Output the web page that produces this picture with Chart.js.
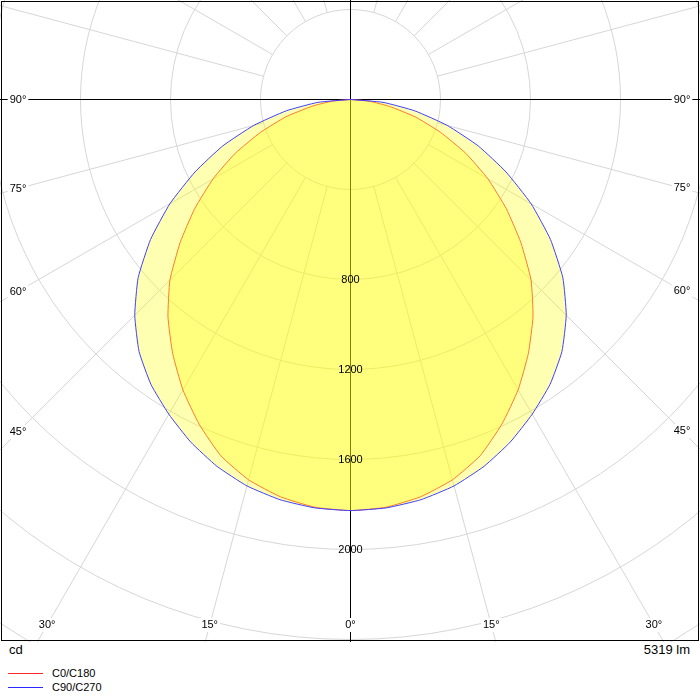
<!DOCTYPE html>
<html lang="en">
<head>
    <meta charset="UTF-8">
    <title>Light distribution</title>
    <script src="https://cdn.jsdelivr.net/npm/chart.js"></script>
    <style>
        body { margin: 0; background: #fff; font-family: "Liberation Sans", Arial, sans-serif; }
        #wrap { position: relative; width: 700px; height: 700px; overflow: hidden; }
        #polar { position: absolute; left: 0; top: 0; }
        .foot { position: absolute; color: #000; white-space: nowrap; }
        .key { position: absolute; left: 8px; width: 35px; height: 0; }
    </style>
</head>
<body>
<div id="wrap">
    <canvas id="polar" width="700" height="642"></canvas>
    <div class="foot" style="left:9px; top:642px; font-size:13px; line-height:16px;">cd</div>
    <div class="foot" style="right:10px; top:642px; font-size:13px; line-height:16px;">5319 lm</div>
    <div class="key" style="top:673px; border-top:1px solid rgb(255,40,40);"></div>
    <div class="foot" style="left:52px; top:666px; font-size:11px; line-height:14px;">C0/C180</div>
    <div class="key" style="top:687px; border-top:1px solid rgb(40,40,255);"></div>
    <div class="foot" style="left:52px; top:680px; font-size:11px; line-height:14px;">C90/C270</div>
</div>

<script>
    // gamma angles (deg from nadir) and luminous intensity in cd
    const gammaAngles = [0, 5, 10, 15, 20, 25, 30, 35, 40, 45, 50, 55, 60, 65, 70, 75, 80, 85, 90];
    const c0c180 = [1827, 1819, 1793, 1750, 1685, 1592, 1490, 1378, 1262, 1135, 988, 845, 705, 565, 425, 297, 175, 82, 0];
    const c90c270 = [1827, 1822, 1806, 1778, 1735, 1680, 1615, 1546, 1462, 1356, 1232, 1085, 927, 763, 605, 445, 290, 145, 0];

    // axis labels
    const ringLabels = [800, 1200, 1600, 2000];
    const angleLabels = [0, 15, 30, 45, 60, 75, 90];

    const step = 5;                 // degrees between radar spokes
    const spokes = 360 / step;
    const rMax = 3200;
    const rStep = 400;
    const pxPerCd = 0.225;
    const centerX = 350.5, centerY = 99.5;
    const font = '11px "Liberation Sans", Arial, sans-serif';

    // spoke i goes clockwise from nadir: left half is gamma = i*step, right half mirrored
    const spokeLabels = [];
    for (let i = 0; i < spokes; i++) spokeLabels.push(i * step);

    function fullCircle(values) {
        return spokeLabels.map(a => {
            const g = a <= 180 ? a : 360 - a;
            const k = gammaAngles.indexOf(g);
            return k >= 0 ? values[k] : 0;
        });
    }

    const polarLabels = {
        id: 'polarLabels',
        afterDraw(chart) {
            const r = chart.scales.r;
            const ctx = chart.ctx;
            ctx.save();
            ctx.font = font;
            ctx.textAlign = 'center';
            ctx.textBaseline = 'middle';

            // intensity rings
            ctx.fillStyle = '#000';
            ringLabels.forEach(v => {
                ctx.fillText(String(v), r.xCenter, r.yCenter + r.getDistanceFromCenterForValue(v));
            });

            // gamma labels where the spokes leave the frame
            const W = chart.width, bottomY = 625, inset = 18;
            angleLabels.forEach(g => {
                const idxs = g === 0 ? [0] : [g / step, spokes - g / step];
                idxs.forEach(i => {
                    const p = r.getPointPosition(i, r.drawingArea);
                    const dx = p.x - r.xCenter, dy = p.y - r.yCenter;
                    let x = NaN, y = bottomY;
                    if (dy > 1e-6) x = r.xCenter + dx * (bottomY - r.yCenter) / dy;
                    if (!(x >= inset && x <= W - inset)) {
                        x = dx < 0 ? inset : W - inset;
                        y = r.yCenter + dy * (x - r.xCenter) / dx;
                    }
                    const txt = g + '°';
                    const w = ctx.measureText(txt).width;
                    ctx.fillStyle = '#fff';
                    ctx.fillRect(x - w / 2 - 2, y - 7, w + 4, 14);
                    ctx.fillStyle = '#000';
                    ctx.fillText(txt, x, y);
                });
            });

            // frame
            ctx.strokeStyle = '#000';
            ctx.lineWidth = 1;
            ctx.strokeRect(1.5, 1.5, 697, 639);
            ctx.restore();
        }
    };

    const ctx = document.getElementById('polar').getContext('2d');
    const chart = new Chart(ctx, {
        type: 'radar',
        data: {
            labels: spokeLabels,
            datasets: [{
                label: 'C0/C180',
                data: fullCircle(c0c180),
                borderColor: 'rgb(255,64,64)',
                backgroundColor: 'rgba(255,255,0,0.3)',
                borderWidth: 1,
                fill: 'origin',
                pointRadius: 0,
                order: 2
            }, {
                label: 'C90/C270',
                data: fullCircle(c90c270),
                borderColor: 'rgb(64,64,255)',
                backgroundColor: 'rgba(255,255,0,0.3)',
                borderWidth: 1,
                fill: 'origin',
                pointRadius: 0,
                order: 1
            }]
        },
        options: {
            responsive: false,
            animation: false,
            layout: { padding: 0 },
            plugins: {
                legend: { display: false },
                tooltip: { enabled: false }
            },
            elements: { line: { tension: 0.15 } },
            scales: {
                r: {
                    min: 0,
                    max: rMax,
                    startAngle: 180,
                    ticks: { display: false, stepSize: rStep },
                    pointLabels: { display: false },
                    grid: { circular: true, color: '#d6d6d6', lineWidth: 1 },
                    angleLines: {
                        lineWidth: function(c) { return c.index % 3 === 0 ? 1 : 0; },
                        color: function(c) { return c.index % 18 === 0 ? '#000' : '#d6d6d6'; },
                        borderDash: function(c) {
                            return c.index % 18 === 0 ? [] : [5000, c.scale.getDistanceFromCenterForValue(rStep)];
                        },
                        borderDashOffset: function(c) { return c.index % 18 === 0 ? 0 : 5000; }
                    },
                    afterFit: function(scale) {
                        scale.xCenter = centerX;
                        scale.yCenter = centerY;
                        scale.drawingArea = rMax * pxPerCd;
                    }
                }
            }
        },
        plugins: [polarLabels]
    });
</script>
</body>
</html>
